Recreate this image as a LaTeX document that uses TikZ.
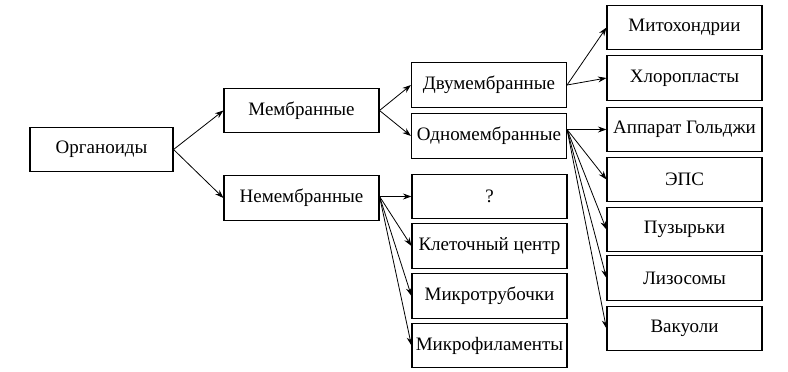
\documentclass[tikz,border=0pt]{standalone}
\usepackage{fontspec}
\setmainfont{Liberation Serif}
\usepackage{tikz}
\usetikzlibrary{arrows.meta}

\begin{document}
\begin{tikzpicture}[x=1pt,y=-1pt,>={Stealth[length=8.5pt,width=6pt]},
  box/.style={draw,line width=1.1pt,inner sep=0pt,minimum width=155pt,minimum height=44.5pt,font=\fontsize{19}{21}\selectfont},
  link/.style={->,line width=0.8pt}]
  \useasboundingbox (0,0) rectangle (788,372);
  \node[box,minimum width=143pt] (org) at (101.5,149.5) {Органоиды};
  \node[box] (mem) at (301.5,110.5) {Мембранные};
  \node[box] (nemem) at (301.5,198) {Немембранные};
  \node[box] (dvu) at (489,85) {Двумембранные};
  \node[box] (odno) at (489,136) {Одномембранные};
  \node[box] (q) at (489.5,196.5) {?};
  \node[box] (kc) at (489.5,246) {Клеточный центр};
  \node[box] (mtr) at (489.5,296) {Микротрубочки};
  \node[box] (mfil) at (489.5,345.5) {Микрофиламенты};
  \node[box] (mito) at (684.5,27.5) {Митохондрии};
  \node[box] (hloro) at (684.5,78) {Хлоропласты};
  \node[box] (golgi) at (684.5,129.5) {Аппарат Гольджи};
  \node[box] (eps) at (684.5,179.5) {ЭПС};
  \node[box] (puz) at (684.5,229.5) {Пузырьки};
  \node[box] (liz) at (684.5,278) {Лизосомы};
  \node[box] (vak) at (684.5,328.5) {Вакуоли};
  \draw[link] (org.east) -- (mem.west);
  \draw[link] (org.east) -- (nemem.west);
  \draw[link] (mem.east) -- (dvu.west);
  \draw[link] (mem.east) -- (odno.west);
  \draw[link] (dvu.east) -- (mito.west);
  \draw[link] (dvu.east) -- (hloro.west);
  \draw[link] (odno.east |- golgi.west) -- (golgi.west);
  \draw[link] (odno.east |- golgi.west) -- (eps.west);
  \draw[link] (odno.east |- golgi.west) -- (puz.west);
  \draw[link] (odno.east |- golgi.west) -- (liz.west);
  \draw[link] (odno.east |- golgi.west) -- (vak.west);
  \draw[link] (nemem.east |- q.west) -- (q.west);
  \draw[link] (nemem.east |- q.west) -- (kc.west);
  \draw[link] (nemem.east |- q.west) -- (mtr.west);
  \draw[link] (nemem.east |- q.west) -- (mfil.west);
\end{tikzpicture}
\end{document}
